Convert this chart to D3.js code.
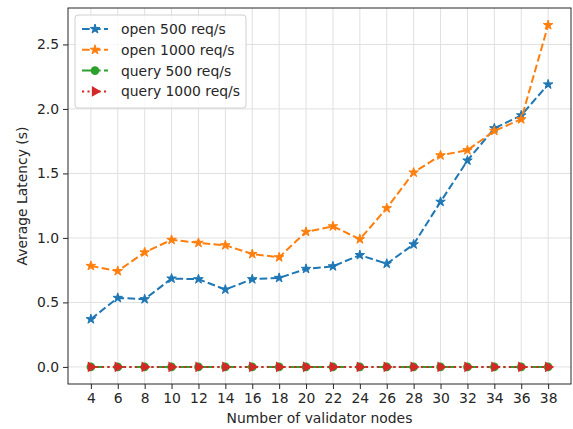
<!DOCTYPE html>
<html><head><meta charset="utf-8">
<script src="https://cdn.jsdelivr.net/npm/d3@7"></script>
<style>body{margin:0;background:#fff}svg{display:block}text{font-family:"DejaVu Sans",sans-serif;fill:#262626}</style>
</head><body><div id="chart"></div>
<script>
const nodes = [4,6,8,10,12,14,16,18,20,22,24,26,28,30,32,34,36,38];
const open500 = [0.37,0.535,0.525,0.685,0.68,0.60,0.68,0.69,0.76,0.78,0.867,0.80,0.95,1.28,1.60,1.85,1.95,2.19];
const open1000 = [0.783,0.743,0.888,0.985,0.962,0.943,0.875,0.850,1.047,1.090,0.99,1.23,1.507,1.64,1.68,1.83,1.92,2.65];
const query500 = [0,0,0,0,0,0,0,0,0,0,0,0,0,0,0,0,0,0];
const query1000 = [0,0,0,0,0,0,0,0,0,0,0,0,0,0,0,0,0,0];
const yTicks = [0.0,0.5,1.0,1.5,2.0,2.5];
const seriesNames = ["open 500 req/s","open 1000 req/s","query 500 req/s","query 1000 req/s"];

const W=573,H=429;
const m={l:68,r:2,t:8,b:45};
const FS="13.9px";
const svg=d3.select("#chart").append("svg").attr("width",W).attr("height",H);
const x=d3.scaleLinear().domain([2.3,39.7]).range([m.l,W-m.r]);
const y=d3.scaleLinear().domain([-0.1325,2.7825]).range([H-m.b,m.t]);

// grid
const g=svg.append("g");
g.selectAll(".vg").data(nodes).join("line").attr("x1",d=>x(d)).attr("x2",d=>x(d)).attr("y1",m.t).attr("y2",H-m.b).attr("stroke","#e0e0e0").attr("stroke-width",1);
g.selectAll(".hg").data(yTicks).join("line").attr("y1",d=>y(d)).attr("y2",d=>y(d)).attr("x1",m.l).attr("x2",W-m.r).attr("stroke","#e0e0e0").attr("stroke-width",1);

// axes
const xa=svg.append("g").attr("transform",`translate(0,${H-m.b})`).call(d3.axisBottom(x).tickValues(nodes).tickSize(5).tickPadding(4).tickFormat(d3.format("d")));
const ya=svg.append("g").attr("transform",`translate(${m.l},0)`).call(d3.axisLeft(y).tickValues(yTicks).tickSize(5).tickPadding(4).tickFormat(d3.format(".1f")));
[xa,ya].forEach(a=>{a.select(".domain").remove();a.selectAll("text").style("font-size",FS).style("font-family","DejaVu Sans").attr("fill","#262626");a.selectAll("line").attr("stroke","#262626");});
svg.append("rect").attr("x",m.l).attr("y",m.t).attr("width",W-m.r-m.l).attr("height",H-m.b-m.t).attr("fill","none").attr("stroke","#262626").attr("stroke-width",1);

svg.append("text").attr("x",(m.l+W-m.r)/2).attr("y",423).attr("text-anchor","middle").style("font-size",FS).text("Number of validator nodes");
svg.append("text").attr("transform",`translate(27,${(m.t+H-m.b)/2}) rotate(-90)`).attr("text-anchor","middle").style("font-size",FS).text("Average Latency (s)");

const star=d3.symbol().type(d3.symbolStar).size(28);
const tri=d3.symbol().type(d3.symbolTriangle).size(50);
const series=[
 {name:seriesNames[0],vals:open500,color:"#1f77b4",dash:"7.7,3.3",marker:"star"},
 {name:seriesNames[1],vals:open1000,color:"#ff7f0e",dash:"7.7,3.3",marker:"star"},
 {name:seriesNames[2],vals:query500,color:"#2ca02c",dash:"13.3,3.3,2.1,3.3",marker:"circle"},
 {name:seriesNames[3],vals:query1000,color:"#d62728",dash:"2.1,3.4",marker:"tri"}
];
const line=d3.line().x(d=>x(d[0])).y(d=>y(d[1]));
function drawMarker(sel,s){
 if(s.marker==="star") sel.append("path").attr("d",star).attr("fill",s.color).attr("stroke",s.color).attr("stroke-width",1);
 else if(s.marker==="circle") sel.append("circle").attr("r",4.3).attr("fill",s.color);
 else sel.append("path").attr("d",tri).attr("transform","rotate(90)").attr("fill",s.color);
}
series.forEach(s=>{
 const pts=nodes.map((n,i)=>[n,s.vals[i]]);
 svg.append("path").datum(pts).attr("d",line).attr("fill","none").attr("stroke",s.color).attr("stroke-width",2).attr("stroke-dasharray",s.dash);
 pts.forEach(p=>{const gg=svg.append("g").attr("transform",`translate(${x(p[0])},${y(p[1])})`);drawMarker(gg,s);});
});

// legend
const lg=svg.append("g");
lg.append("rect").attr("x",75).attr("y",15).attr("width",171).attr("height",93).attr("rx",3).attr("fill","#fff").attr("fill-opacity",0.8).attr("stroke","#d0d0d0");
series.forEach((s,i)=>{
 const yy=29+i*20.8;
 lg.append("line").attr("x1",82).attr("x2",108).attr("y1",yy).attr("y2",yy).attr("stroke",s.color).attr("stroke-width",2).attr("stroke-dasharray",s.dash);
 const gg=lg.append("g").attr("transform",`translate(95,${yy})`);drawMarker(gg,s);
 lg.append("text").attr("x",121).attr("y",yy+5).style("font-size",FS).text(s.name);
});
</script></body></html>
